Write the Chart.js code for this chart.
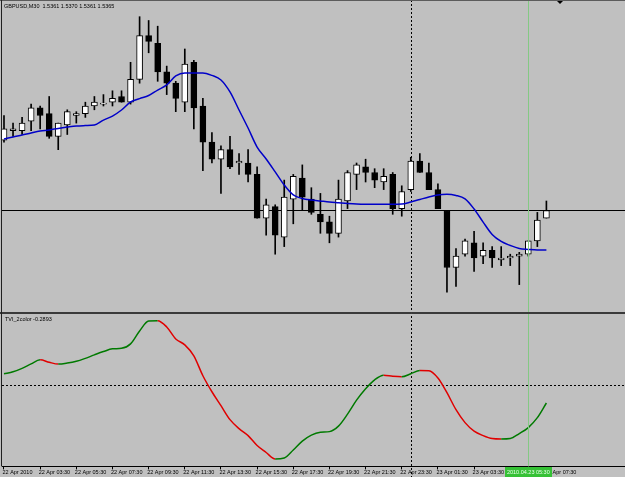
<!DOCTYPE html>
<html>
<head>
<meta charset="utf-8">
<script src="https://cdn.jsdelivr.net/npm/chart.js@4.4.0/dist/chart.umd.min.js"></script>
<style>
html, body { margin: 0; padding: 0; background: #c0c0c0; }
#wrap { position: relative; width: 625px; height: 477px; overflow: hidden; }
canvas { position: absolute; left: 0; }
#priceChart { top: 0; }
#tviChart { top: 312px; }
</style>
</head>
<body>
<div id="wrap">
  <canvas id="priceChart" width="625" height="312"></canvas>
  <canvas id="tviChart" width="625" height="165"></canvas>
</div>
<script>
let symbolName = 'GBPUSD,M30';
let indicatorName = 'TVI_2color';

let openPrices = [1.5402, 1.5407, 1.5407, 1.5412, 1.5419, 1.5416, 1.5404, 1.5410, 1.5415, 1.5416,
  1.5420, 1.5421, 1.5422, 1.5425, 1.5422, 1.5434, 1.5457, 1.5453, 1.5438, 1.5432,
  1.5422, 1.5443, 1.5420, 1.5401, 1.5392, 1.5397, 1.5390, 1.5390, 1.5384, 1.5361,
  1.5367, 1.5351, 1.5371, 1.5382, 1.5371, 1.5363, 1.5359, 1.5353, 1.5370, 1.5384,
  1.5388, 1.5385, 1.5380, 1.5384, 1.5366, 1.5376, 1.5391, 1.5385, 1.5376, 1.5365,
  1.5335, 1.5342, 1.5348, 1.5341, 1.5344, 1.5339, 1.5340, 1.5341, 1.5342, 1.5349, 1.5361];
let highPrices = [1.5415, 1.5411, 1.5414, 1.5421, 1.5420, 1.5425, 1.5411, 1.5418, 1.5417, 1.5422,
  1.5425, 1.5426, 1.5428, 1.5428, 1.5443, 1.5467, 1.5465, 1.5462, 1.5441, 1.5433,
  1.5450, 1.5444, 1.5424, 1.5406, 1.5399, 1.5404, 1.5395, 1.5397, 1.5388, 1.5371,
  1.5368, 1.5381, 1.5384, 1.5389, 1.5377, 1.5374, 1.5362, 1.5381, 1.5386, 1.5390,
  1.5392, 1.5387, 1.5387, 1.5385, 1.5378, 1.5393, 1.5395, 1.5390, 1.5379, 1.5365,
  1.5345, 1.5350, 1.5354, 1.5348, 1.5346, 1.5346, 1.5342, 1.5343, 1.5349, 1.5364, 1.5370];
let lowPrices = [1.5401, 1.5404, 1.5405, 1.5407, 1.5408, 1.5403, 1.5397, 1.5405, 1.5411, 1.5414,
  1.5418, 1.5420, 1.5420, 1.5422, 1.5421, 1.5432, 1.5448, 1.5433, 1.5426, 1.5417,
  1.5417, 1.5408, 1.5386, 1.5390, 1.5374, 1.5387, 1.5384, 1.5380, 1.5361, 1.5352,
  1.5342, 1.5346, 1.5358, 1.5365, 1.5363, 1.5353, 1.5348, 1.5351, 1.5366, 1.5376,
  1.5380, 1.5377, 1.5376, 1.5363, 1.5362, 1.5375, 1.5385, 1.5376, 1.5366, 1.5322,
  1.5325, 1.5341, 1.5333, 1.5337, 1.5335, 1.5336, 1.5336, 1.5326, 1.5341, 1.5346, 1.5361];
let closePrices = [1.5408, 1.5408, 1.5411, 1.5419, 1.5415, 1.5404, 1.5411, 1.5417, 1.5416, 1.5420,
  1.5422, 1.54215, 1.5424, 1.5422, 1.5434, 1.5457, 1.5454, 1.5438, 1.5432, 1.5424,
  1.5442, 1.5419, 1.5401, 1.5392, 1.5397, 1.5388, 1.5391, 1.5384, 1.5361, 1.5368,
  1.5352, 1.5372, 1.5383, 1.5372, 1.5364, 1.5359, 1.5353, 1.5371, 1.5385, 1.5389,
  1.5385, 1.5381, 1.5383, 1.5366, 1.5375, 1.5391, 1.5385, 1.5376, 1.5366, 1.5335,
  1.5341, 1.5349, 1.5340, 1.5344, 1.5340, 1.5340, 1.5341, 1.5342, 1.5349, 1.5360, 1.5365];
// moyenne mobile (ligne bleue)
let maValues = [1.54026, 1.54037, 1.54047, 1.54058, 1.54068, 1.54074, 1.54082, 1.54089, 1.54095, 1.54097,
  1.54100, 1.54126, 1.54147, 1.54179, 1.54221, 1.54239, 1.54255, 1.54284, 1.54311, 1.54358,
  1.54374, 1.54374, 1.54374, 1.54361, 1.54337, 1.54274, 1.54179, 1.54084, 1.53984, 1.53921,
  1.53853, 1.53784, 1.53732, 1.53713, 1.53705, 1.53700, 1.53695, 1.53691, 1.53687, 1.53684,
  1.53683, 1.53683, 1.53683, 1.53683, 1.53684, 1.53695, 1.53708, 1.53721, 1.53732, 1.53735,
  1.53729, 1.53711, 1.53658, 1.53589, 1.53524, 1.53487, 1.53466, 1.53450, 1.53445, 1.53442, 1.53442];
// indicateur du bas
let tviValues = [0.182, 0.214, 0.270, 0.342, 0.407, 0.367, 0.338, 0.354, 0.383, 0.431,
  0.487, 0.540, 0.584, 0.592, 0.664, 0.873, 1.034, 1.039, 0.937, 0.744,
  0.648, 0.471, 0.150, -0.108, -0.333, -0.558, -0.703, -0.815, -0.976, -1.088,
  -1.193, -1.177, -1.048, -0.904, -0.807, -0.762, -0.751, -0.662, -0.469, -0.244,
  -0.059, 0.085, 0.158, 0.141, 0.133, 0.182, 0.235, 0.230, 0.113, -0.124,
  -0.397, -0.606, -0.743, -0.815, -0.863, -0.871, -0.863, -0.783, -0.686, -0.526, -0.2893];

let tickIndexes = [0, 4, 8, 12, 16, 20, 24, 28, 32, 36, 40, 44, 48, 52, 56, 60];
let tickLabels = ['22 Apr 2010', '22 Apr 03:30', '22 Apr 05:30', '22 Apr 07:30', '22 Apr 09:30',
  '22 Apr 11:30', '22 Apr 13:30', '22 Apr 15:30', '22 Apr 17:30', '22 Apr 19:30',
  '22 Apr 21:30', '22 Apr 23:30', '23 Apr 01:30', '23 Apr 03:30', '23 Apr 05:30', '23 Apr 07:30'];
let daySeparatorIndex = 45;
let markerIndex = 58;
let markerLabel = '2010.04.23 05:30';

let xMin = -0.221, xMax = 68.695;
let priceMin = 1.531158, priceMax = 1.547526;
let tviMin = -1.312, tviMax = 1.130;

let textFont = "5.5px 'Liberation Sans', Arial, sans-serif";
Chart.defaults.font.family = "'Liberation Sans', Arial, sans-serif";
Chart.defaults.font.size = 5.5;
Chart.defaults.color = '#000';
Chart.defaults.animation = false;

function vLine(chart, idx, y0, y1, color, dash) {
    let ctx = chart.ctx;
    let x = Math.round(chart.scales.x.getPixelForValue(idx)) + 0.5;
    ctx.save();
    ctx.strokeStyle = color;
    ctx.lineWidth = 1;
    ctx.setLineDash(dash);
    ctx.beginPath();
    ctx.moveTo(x, y0);
    ctx.lineTo(x, y1);
    ctx.stroke();
    ctx.restore();
}

function hLine(chart, y, color, dash) {
    let ctx = chart.ctx;
    ctx.save();
    ctx.strokeStyle = color;
    ctx.lineWidth = 1;
    ctx.setLineDash(dash);
    ctx.beginPath();
    ctx.moveTo(chart.chartArea.left, Math.round(y) + 0.5);
    ctx.lineTo(chart.chartArea.right, Math.round(y) + 0.5);
    ctx.stroke();
    ctx.restore();
}

let last = closePrices.length - 1;

let priceDecor = {
    id: 'priceDecor',
    beforeDatasetsDraw(chart) {
        // ligne du bid et séparateur de jour
        hLine(chart, chart.scales.y.getPixelForValue(closePrices[last]), '#000', []);
        vLine(chart, daySeparatorIndex, 0, chart.height, '#000', [2, 2]);
    },
    afterDatasetsDraw(chart) {
        let ctx = chart.ctx;
        vLine(chart, markerIndex, 0, chart.height, '#84c984', []);
        ctx.save();
        ctx.fillStyle = '#5c5c5c';
        ctx.fillRect(0, 0, chart.width, 1);
        ctx.fillStyle = '#202020';
        ctx.fillRect(1, 0, 1, chart.height);
        // petit triangle du décalage
        ctx.fillStyle = '#000';
        ctx.beginPath();
        ctx.moveTo(557, 1);
        ctx.lineTo(563, 1);
        ctx.lineTo(560, 4);
        ctx.closePath();
        ctx.fill();
        ctx.font = textFont;
        ctx.textBaseline = 'alphabetic';
        let title = symbolName + '  ' + [openPrices[last], highPrices[last], lowPrices[last], closePrices[last]]
            .map(v => v.toFixed(4)).join(' ');
        ctx.fillText(title, 4, 7.5);
        ctx.restore();
    }
};

let tviDecor = {
    id: 'tviDecor',
    beforeDatasetsDraw(chart) {
        hLine(chart, chart.scales.y.getPixelForValue(0), '#000', [2, 2]);
        vLine(chart, daySeparatorIndex, 0, chart.height, '#000', [2, 2]);
    },
    afterDraw(chart) {
        let ctx = chart.ctx;
        let area = chart.chartArea;
        vLine(chart, markerIndex, 0, area.bottom, '#84c984', []);
        ctx.save();
        ctx.fillStyle = '#3a3a3a';
        ctx.fillRect(0, 0, chart.width, 2);
        ctx.fillStyle = '#202020';
        ctx.fillRect(1, 0, 1, area.bottom);
        ctx.font = textFont;
        ctx.fillStyle = '#000';
        ctx.fillText(indicatorName + ' ' + tviValues[last].toFixed(4), 5, 9);
        // étiquette verte sur l'axe du temps
        let xm = chart.scales.x.getPixelForValue(markerIndex);
        let w = ctx.measureText(markerLabel).width + 4;
        let top = Math.round(area.bottom) + 1;
        ctx.fillStyle = '#36c136';
        ctx.fillRect(Math.round(xm - w / 2), top, Math.round(w), chart.height - top);
        ctx.fillStyle = '#e8ffe8';
        ctx.textAlign = 'center';
        ctx.textBaseline = 'middle';
        ctx.fillText(markerLabel, xm, top + (chart.height - top) / 2);
        ctx.restore();
    }
};

let priceChart = new Chart(document.getElementById('priceChart'), {
    type: 'bar',
    data: {
        datasets: [{
            type: 'line',
            data: maValues.map((v, i) => ({ x: i, y: v })),
            borderColor: '#0000c8',
            borderWidth: 1.5,
            pointRadius: 0,
            cubicInterpolationMode: 'monotone',
            order: 1
        }, {
            data: openPrices.map((o, i) => ({ x: i, y: [o, closePrices[i]] })),
            backgroundColor: closePrices.map((c, i) => c >= openPrices[i] ? '#ffffff' : '#000000'),
            borderColor: '#000',
            borderWidth: 1,
            borderSkipped: false,
            barThickness: 6,
            grouped: false,
            order: 2
        }, {
            data: lowPrices.map((l, i) => ({ x: i, y: [l, highPrices[i]] })),
            backgroundColor: '#000',
            borderWidth: 0,
            barThickness: 1,
            grouped: false,
            order: 3
        }]
    },
    options: {
        responsive: false,
        events: [],
        layout: { padding: { left: 2, top: 1, right: 0, bottom: 0 } },
        plugins: { legend: { display: false }, tooltip: { enabled: false } },
        scales: {
            x: { type: 'linear', display: false, min: xMin, max: xMax, offset: false },
            y: { display: false, min: priceMin, max: priceMax }
        }
    },
    plugins: [priceDecor]
});

let tviChart = new Chart(document.getElementById('tviChart'), {
    type: 'line',
    data: {
        datasets: [{
            data: tviValues.map((v, i) => ({ x: i, y: v })),
            borderWidth: 1.5,
            pointRadius: 0,
            cubicInterpolationMode: 'monotone',
            segment: {
                borderColor: ctx => ctx.p1.parsed.y > ctx.p0.parsed.y ? '#007a00' : '#e00000'
            }
        }]
    },
    options: {
        responsive: false,
        events: [],
        layout: { padding: { left: 2, top: 3, right: 0, bottom: 1 } },
        plugins: { legend: { display: false }, tooltip: { enabled: false } },
        scales: {
            x: {
                type: 'linear', min: xMin, max: xMax, offset: false,
                afterBuildTicks: scale => { scale.ticks = tickIndexes.map(v => ({ value: v })); },
                ticks: {
                    autoSkip: false, maxRotation: 0, minRotation: 0,
                    align: 'start', padding: 0, labelOffset: -1.5,
                    callback: v => tickLabels[tickIndexes.indexOf(v)]
                },
                grid: { drawOnChartArea: false, drawTicks: true, tickLength: 3, color: '#000' },
                border: { display: true, color: '#000', width: 1 }
            },
            y: { display: false, min: tviMin, max: tviMax }
        }
    },
    plugins: [tviDecor]
});
</script>
</body>
</html>
